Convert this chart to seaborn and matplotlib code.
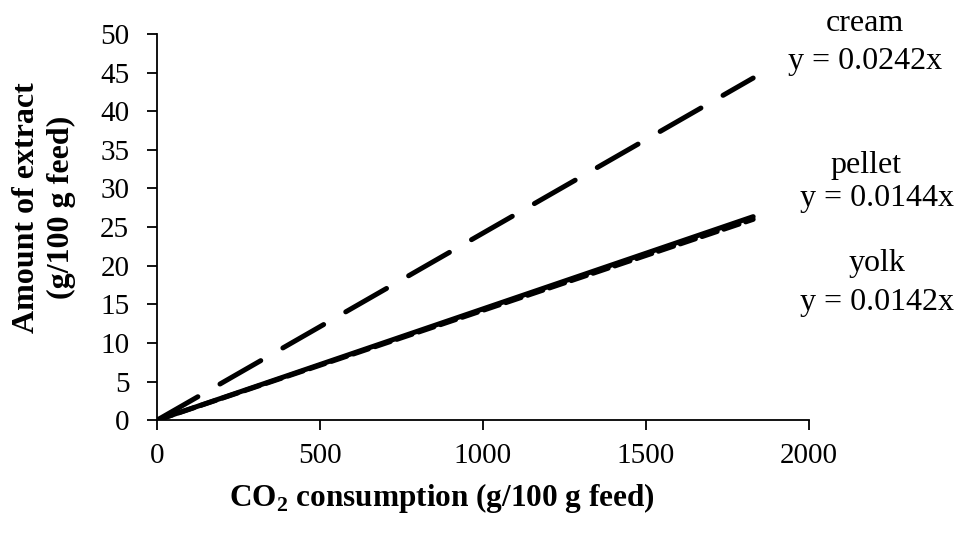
import matplotlib
matplotlib.use("Agg")
import matplotlib.pyplot as plt
import seaborn as sns
import pandas as pd

series = ["cream", "pellet", "yolk"]
equations = ["y = 0.0242x", "y = 0.0144x", "y = 0.0142x"]
x_vals = [0, 1830]
cream_y = [0, 44.3]
pellet_y = [0, 26.35]
yolk_y = [0, 26.0]
x_ticks = [0, 500, 1000, 1500, 2000]
y_ticks = [0, 5, 10, 15, 20, 25, 30, 35, 40, 45, 50]

rows = []
for name, ys in zip(series, [cream_y, pellet_y, yolk_y]):
    for x, y in zip(x_vals, ys):
        rows.append({"x": x, "y": y, "series": name})
df = pd.DataFrame(rows)

sns.set_style("ticks")
plt.rcParams["font.family"] = ["Liberation Serif", "DejaVu Serif"]
plt.rcParams["mathtext.fontset"] = "custom"
plt.rcParams["mathtext.rm"] = "Liberation Serif"
plt.rcParams["mathtext.bf"] = "Liberation Serif:bold"
plt.rcParams["text.color"] = "black"

fig = plt.figure(figsize=(9.58, 5.4), dpi=100)
ax = fig.add_axes([0.164, 0.222, 0.68, 0.715])

dashes = {"cream": (9.4, 5.1), "pellet": "", "yolk": (3.2, 1.4)}
sns.lineplot(data=df, x="x", y="y", hue="series", style="series",
             palette={s: "black" for s in series}, dashes=dashes,
             linewidth=3.6, legend=False, ax=ax, zorder=3,
             dash_capstyle="round", solid_capstyle="round")

ax.set_xlim(0, 2000)
ax.set_ylim(0, 50)
ax.set_xticks(x_ticks)
ax.set_yticks(y_ticks)
ax.tick_params(axis="both", labelsize=21, direction="out", length=7, width=1.3,
               colors="black", labelcolor="black")
ax.tick_params(axis="x", pad=9.5)
ax.tick_params(axis="y", pad=13)
for s in ["left", "bottom"]:
    ax.spines[s].set_linewidth(1.3)
    ax.spines[s].set_color("black")
sns.despine(ax=ax)
ax.set_xlabel("")
ax.set_ylabel("")

fig.text(0.461, 0.078, r"CO$_\mathbf{2}$ consumption (g/100 g feed)", ha="center", va="center",
         fontsize=22.5, fontweight="bold", color="black")
fig.text(0.046, 0.616, "Amount of extract\n(g/100 g feed)", ha="center", va="center",
         rotation=90, fontsize=23, fontweight="bold", linespacing=1.3, color="black")

label_pos = [(0.903, 0.903, 0.957, 0.887), (0.904, 0.915, 0.694, 0.633), (0.915, 0.915, 0.512, 0.44)]
for name, eq, (x1, x2, y1, y2) in zip(series, equations, label_pos):
    fig.text(x1, y1, name, ha="center", va="center", fontsize=23, color="black")
    fig.text(x2, y2, eq, ha="center", va="center", fontsize=23, color="black")

fig.savefig("out.png", dpi=100)
